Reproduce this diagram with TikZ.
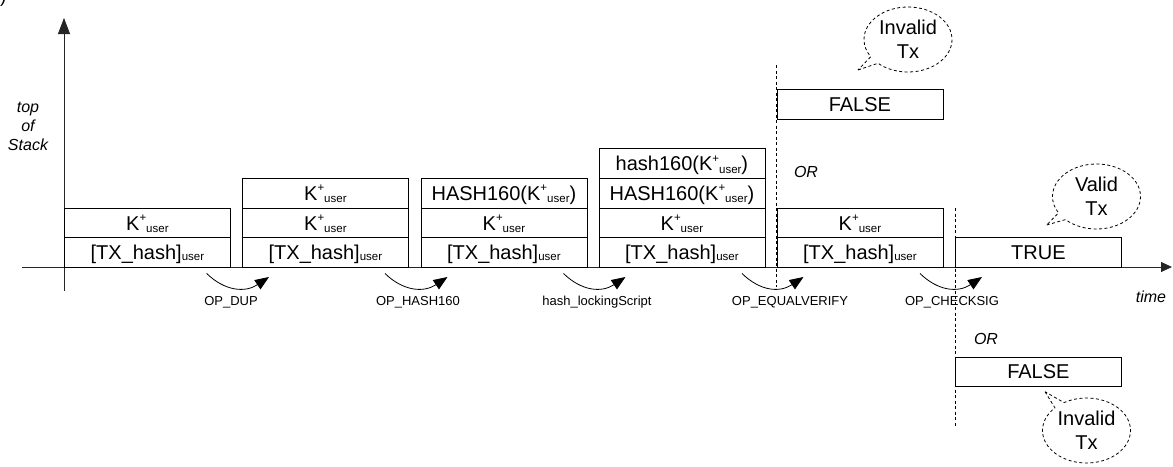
\documentclass[tikz,border=0pt]{standalone}
\usepackage{fontspec}
\setmainfont{Liberation Sans}
\usetikzlibrary{arrows.meta,shapes.callouts}

% stack entries
\newcommand{\usr}{\fontsize{11.5}{11.5}\selectfont user}
\newcommand{\Kpu}{K\raisebox{8.5pt}{\fontsize{11.5}{11.5}\selectfont +}\raisebox{-2.5pt}{\usr}}
\newcommand{\txh}{[TX\_hash]\raisebox{-0.5pt}{\usr}}

\begin{document}
\begin{tikzpicture}[x=1pt,y=-1pt,
  cell/.style={draw, line width=0.8pt, inner sep=0pt, anchor=north west,
    minimum width=166pt, minimum height=29.7pt, text height=15pt, text depth=0.7pt,
    font=\fontsize{20}{20}\selectfont},
  axis/.style={line width=0.8pt, draw=black!85},
  opstep/.style={line width=0.8pt, -{Triangle[length=14pt,width=11pt]}},
  oplabel/.style={font=\fontsize{13}{13}\selectfont, inner sep=0pt},
  note/.style={font=\itshape\fontsize{16}{19}\selectfont, inner sep=0pt, align=center},
  split/.style={line width=0.8pt, dash pattern=on 3pt off 2.5pt},
  bubble/.style={ellipse callout, draw, line width=0.8pt, dash pattern=on 3pt off 2.5pt,
    minimum width=88pt, minimum height=65pt, inner sep=0pt, align=center,
    font=\fontsize{20}{24}\selectfont}]
\useasboundingbox (0,0) rectangle (1173,466);

% panel tag
\node[anchor=base west, inner sep=0pt, font=\fontsize{19}{19}\selectfont] (tag) at (0,2) {)};

% axes
\coordinate (yb) at (64,291);
\coordinate (yt) at (64,18);
\coordinate (xl) at (22,267);
\coordinate (xr) at (1172,267);
\draw[axis, -{Triangle[length=16pt,width=12pt]}] (yb) -- (yt);
\draw[axis, -{Triangle[length=11pt,width=10pt]}] (xl) -- (xr);
\node[note] (tos) at (28,126) {top\\of\\Stack};
\node[note] (time) at (1151,297) {time};

% stack states
\node[cell] (c1a) at (64,237.3) {\txh};
\node[cell] (c1b) at (64,207.6) {\Kpu};

\node[cell] (c2a) at (242,237.3) {\txh};
\node[cell] (c2b) at (242,207.6) {\Kpu};
\node[cell] (c2c) at (242,177.9) {\Kpu};

\node[cell] (c3a) at (420.5,237.3) {\txh};
\node[cell] (c3b) at (420.5,207.6) {\Kpu};
\node[cell] (c3c) at (420.5,177.9) {HASH160(\Kpu)};

\node[cell] (c4a) at (598.5,237.3) {\txh};
\node[cell] (c4b) at (598.5,207.6) {\Kpu};
\node[cell] (c4c) at (598.5,177.9) {HASH160(\Kpu)};
\node[cell] (c4d) at (598.5,148.2) {hash160(\Kpu)};

\node[cell] (c5a) at (776.5,237.3) {\txh};
\node[cell] (c5b) at (776.5,207.6) {\Kpu};
\node[cell] (c5f) at (776.5,89.3) {FALSE};
\node[note] (or1) at (806,172) {OR};

\node[cell] (c6t) at (955,237.3) {TRUE};
\node[cell] (c6f) at (955,356.5) {FALSE};
\node[note] (or2) at (986,339) {OR};

% branch separators
\coordinate (d1t) at (776.5,65);
\coordinate (d1b) at (776.5,287);
\coordinate (d2t) at (955,208);
\coordinate (d2b) at (955,427);
\draw[split] (d1t) -- (d1b);
\draw[split] (d2t) -- (d2b);

% script operations
\foreach \i/\xs/\xt/\xl/\txt in {1/206.7/269/231/OP\_DUP,
                                 2/385/447.5/418/OP\_HASH160,
                                 3/563.5/625.5/597/hash\_lockingScript,
                                 4/742/803.5/790/OP\_EQUALVERIFY,
                                 5/920/982/952/OP\_CHECKSIG}{
  \coordinate (s\i) at (\xs,273.5);
  \coordinate (t\i) at (\xt,277);
  \draw[opstep] (s\i) .. controls +(18,17.5) and +(-24,16) .. (t\i);
  \node[oplabel] (op\i) at (\xl,302) {\txt};
}

% outcomes
\node[bubble, callout absolute pointer={(858,70)}] (inv1) at (908,39.5) {Invalid\\Tx};
\node[bubble, callout absolute pointer={(1046.7,225)}] (val) at (1096.5,196.5) {Valid\\Tx};
\node[bubble, callout absolute pointer={(1045,391.7)}] (inv2) at (1086.5,430.5) {Invalid\\Tx};
\end{tikzpicture}
\end{document}
